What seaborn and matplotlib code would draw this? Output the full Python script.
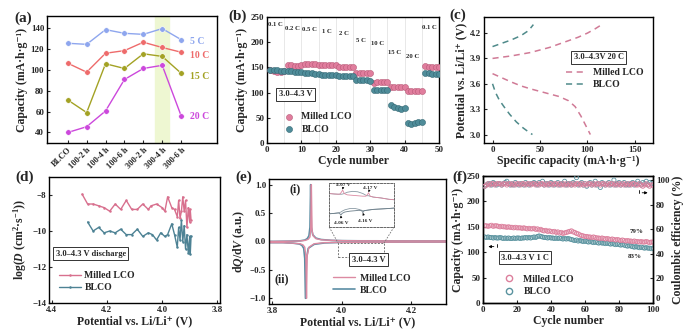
import numpy as np
import pandas as pd
import matplotlib
matplotlib.use('Agg')
import matplotlib.pyplot as plt
import seaborn as sns
from matplotlib.ticker import MultipleLocator
from matplotlib.lines import Line2D

# ---------------- data ----------------
# (a) rate capacity of samples
a_samples = ['BLCO', '100-2 h', '100-4 h', '100-6 h', '300-2 h', '300-4 h', '300-6 h']
a_5C = [125, 124, 138, 134.5, 133.5, 139, 128.5]
a_10C = [106, 97.5, 115.5, 118, 126, 121, 116.5]
a_15C = [71, 59, 105.5, 101, 115, 112.5, 96.5]
a_20C = [40, 45.5, 60.5, 90.5, 101, 104, 56]
a_rates = ['5 C', '10 C', '15 C', '20 C']
a_label_y = [127, 113.5, 93.5, 55.5]

# (b) rate performance
b_cycles = list(range(1, 51))
b_milled = [145, 143, 140, 140, 142, 154, 154, 153, 153, 154,
            156, 156, 156, 156, 155, 155, 155, 155, 154, 155,
            151, 150, 150, 150, 150, 138, 139, 139, 139, 139,
            119, 121, 121, 121, 121, 112, 112, 112, 111, 111,
            103, 104, 104, 104, 104, 152, 151, 151, 150, 150]
b_blco = [145, 144, 144, 143, 143, 143, 142, 141, 141, 140,
          138, 138, 138, 137, 137, 135, 135, 135, 134, 134,
          133, 132, 132, 132, 133, 125, 125, 125, 124, 123,
          106, 105, 105, 105, 106, 75, 72, 70, 68, 70,
          40, 38, 40, 41, 41, 138, 138, 137, 137, 137]
b_rate_labels = ['0.1 C', '0.2 C', '0.5 C', '1 C', '2 C', '5 C', '10 C', '15 C', '20 C', '0.1 C']
b_rate_x = [2.4, 7.5, 12.4, 17.3, 22.5, 27.3, 32.2, 37.1, 42.2, 47.2]
b_rate_y = [235, 228, 225, 222, 218, 204, 197, 180, 172, 229]

# (c) voltage profiles at 20 C
c_m_chg_x = [0, 10, 20, 30, 40, 50, 60, 70, 80, 90, 100, 108, 115]
c_m_chg_y = [3.90, 3.915, 3.93, 3.95, 3.97, 4.00, 4.03, 4.07, 4.11, 4.15, 4.20, 4.25, 4.30]
c_m_dis_x = [0, 10, 20, 30, 40, 50, 60, 70, 80, 87, 93, 98, 103]
c_m_dis_y = [3.72, 3.67, 3.62, 3.575, 3.54, 3.51, 3.48, 3.45, 3.40, 3.33, 3.22, 3.11, 3.00]
c_b_chg_x = [0, 10, 20, 30, 38, 43]
c_b_chg_y = [4.04, 4.08, 4.12, 4.17, 4.23, 4.30]
c_b_dis_x = [0, 3, 7, 12, 18, 25, 32, 38, 42]
c_b_dis_y = [3.60, 3.50, 3.41, 3.33, 3.24, 3.15, 3.08, 3.03, 3.00]

# (d) diffusion coefficient
d_m_V = [4.29, 4.27, 4.25, 4.23, 4.21, 4.19, 4.17, 4.15, 4.13, 4.11, 4.09, 4.07, 4.05,
         4.04, 4.02, 4.00, 3.99, 3.98, 3.965, 3.955, 3.945, 3.94, 3.935, 3.93, 3.925,
         3.92, 3.915, 3.91, 3.905, 3.90, 3.898, 3.895]
d_m_D = [-7.95, -8.5, -8.5, -8.6, -8.7, -8.9, -8.5, -8.8, -8.3, -8.8, -8.8, -8.5, -8.8,
         -8.6, -8.5, -8.7, -8.9, -8.1, -8.7, -8.8, -9.2, -8.3, -9.3, -8.9, -8.1,
         -8.9, -8.3, -9.8, -8.7, -9.5, -8.8, -9.4]
d_b_V = [4.27, 4.25, 4.23, 4.21, 4.19, 4.17, 4.15, 4.13, 4.11, 4.09, 4.07, 4.05, 4.035,
         4.02, 4.005, 3.99, 3.98, 3.965, 3.955, 3.945, 3.94, 3.935, 3.93, 3.925, 3.92,
         3.915, 3.91, 3.905, 3.90, 3.898, 3.895]
d_b_D = [-9.5, -10.0, -9.8, -10.1, -10.0, -10.1, -9.9, -10.2, -10.2, -9.9, -10.3, -10.1, -10.2,
         -10.5, -10.1, -10.3, -10.2, -9.6, -10.2, -10.9, -9.8, -10.5, -9.4, -10.6, -9.7,
         -11.0, -10.2, -11.2, -10.3, -11.3, -10.3]

# (e) dQ/dV
e_m_chg_V = [3.79, 3.85, 3.88, 3.895, 3.903, 3.908, 3.910, 3.912, 3.914, 3.917, 3.925,
             3.94, 3.97, 4.00, 4.05, 4.10, 4.15, 4.20, 4.25, 4.30]
e_m_chg_Q = [0.0, 0.005, 0.01, 0.02, 0.04, 0.08, 0.2, 1.0, 0.2, 0.1, 0.05,
             0.03, 0.02, 0.015, 0.012, 0.012, 0.01, 0.01, 0.01, 0.01]
e_m_dis_V = [4.30, 4.20, 4.10, 4.00, 3.95, 3.92, 3.905, 3.90, 3.898, 3.896, 3.893,
             3.888, 3.88, 3.86, 3.83, 3.79]
e_m_dis_Q = [-0.01, -0.01, -0.012, -0.015, -0.02, -0.04, -0.1, -0.25, -1.0, -0.25, -0.1,
             -0.06, -0.04, -0.03, -0.02, -0.02]
e_b_chg_V = [3.79, 3.85, 3.88, 3.893, 3.900, 3.905, 3.908, 3.910, 3.912, 3.916, 3.925,
             3.94, 3.97, 4.00, 4.05, 4.10, 4.15, 4.20, 4.25, 4.30]
e_b_chg_Q = [0.0, 0.006, 0.012, 0.025, 0.05, 0.1, 0.25, 1.0, 0.25, 0.12, 0.06,
             0.035, 0.02, 0.015, 0.012, 0.012, 0.01, 0.01, 0.01, 0.01]
e_b_dis_V = [4.30, 4.20, 4.10, 4.00, 3.95, 3.92, 3.903, 3.898, 3.895, 3.893, 3.890,
             3.885, 3.878, 3.86, 3.83, 3.79]
e_b_dis_Q = [-0.01, -0.01, -0.012, -0.015, -0.025, -0.05, -0.12, -0.3, -1.0, -0.3, -0.12,
             -0.07, -0.045, -0.03, -0.02, -0.02]
ins_up_x = [4.02, 4.04, 4.055, 4.062, 4.068, 4.072, 4.078, 4.09, 4.11, 4.13, 4.15,
            4.162, 4.168, 4.172, 4.178, 4.19, 4.22, 4.25, 4.27]
ins_up_m = [0.76, 0.75, 0.745, 0.75, 0.80, 0.84, 0.76, 0.73, 0.72, 0.71, 0.70,
            0.70, 0.74, 0.78, 0.70, 0.68, 0.66, 0.63, 0.62]
ins_up_b = [0.76, 0.75, 0.745, 0.745, 0.745, 0.75, 0.76, 0.79, 0.81, 0.80, 0.76,
            0.72, 0.71, 0.71, 0.70, 0.68, 0.66, 0.63, 0.62]
ins_lo_x = [4.02, 4.04, 4.055, 4.06, 4.065, 4.07, 4.08, 4.10, 4.12, 4.135, 4.145,
            4.15, 4.155, 4.165, 4.19, 4.22, 4.25, 4.27]
ins_lo_m = [0.30, 0.31, 0.32, 0.31, 0.27, 0.31, 0.34, 0.36, 0.37, 0.38, 0.37,
            0.33, 0.37, 0.38, 0.40, 0.41, 0.42, 0.43]
ins_lo_b = [0.30, 0.31, 0.32, 0.33, 0.34, 0.36, 0.39, 0.42, 0.42, 0.40, 0.38,
            0.37, 0.37, 0.38, 0.40, 0.41, 0.42, 0.43]

# (f) cycling at 1 C
f_cycles = list(range(1, 101))
f_cap_m = [152, 152, 151, 152, 153, 151, 152, 152, 151, 150,
           151, 150, 150, 149, 150, 149, 149, 148, 149, 148,
           148, 148, 147, 148, 147, 146, 147, 146, 146, 147,
           145, 146, 144, 145, 143, 142, 143, 141, 142, 141,
           140, 141, 139, 140, 138, 139, 137, 138, 139, 140,
           141, 142, 140, 139, 137, 136, 134, 133, 132, 131,
           131, 130, 130, 129, 130, 129, 128, 128, 127, 128,
           127, 126, 127, 126, 125, 126, 125, 124, 125, 124,
           123, 124, 123, 122, 123, 122, 122, 121, 122, 121,
           121, 120, 121, 120, 120, 121, 120, 119, 120, 120]
f_cap_b = [130, 129, 130, 129, 129, 128, 129, 128, 128, 129,
           128, 127, 128, 127, 128, 127, 127, 128, 127, 128,
           128, 127, 128, 128, 129, 128, 129, 128, 129, 130,
           129, 131, 132, 131, 130, 129, 129, 128, 129, 128,
           128, 127, 128, 127, 128, 127, 126, 127, 126, 127,
           126, 125, 124, 123, 124, 122, 123, 122, 121, 122,
           121, 120, 121, 120, 119, 120, 119, 118, 119, 118,
           118, 117, 118, 117, 116, 117, 116, 115, 116, 115,
           114, 115, 114, 113, 112, 113, 112, 111, 110, 111,
           110, 109, 110, 109, 108, 109, 108, 108, 107, 108]
f_ce_m = [95, 96, 97, 96, 97, 97, 96, 97, 97, 97,
          96, 97, 97, 96, 97, 97, 96, 97, 96, 97,
          97, 96, 97, 97, 96, 97, 97, 96, 97, 97,
          96, 97, 96, 97, 97, 96, 97, 96, 97, 97,
          96, 97, 97, 96, 97, 96, 97, 96, 97, 96,
          97, 96, 97, 96, 97, 97, 96, 97, 96, 97,
          96, 97, 97, 96, 97, 96, 97, 97, 96, 97,
          97, 96, 97, 96, 97, 97, 96, 97, 96, 97,
          96, 97, 96, 97, 96, 97, 96, 97, 97, 96,
          96, 97, 96, 95, 96, 97, 96, 95, 96, 96]
f_ce_b = [95, 96, 97, 97, 96, 98, 97, 96, 97, 97,
          96, 97, 98, 99, 97, 96, 97, 96, 98, 97,
          96, 97, 97, 96, 98, 97, 96, 97, 97, 98,
          97, 96, 98, 97, 99, 96, 97, 97, 96, 98,
          97, 96, 97, 98, 96, 97, 97, 99, 96, 97,
          97, 96, 98, 97, 102, 96, 97, 98, 96, 97,
          95, 97, 98, 96, 97, 99, 96, 97, 94, 98,
          97, 96, 97, 98, 96, 97, 100, 96, 97, 98,
          96, 97, 98, 96, 97, 96, 97, 98, 96, 97,
          99, 97, 96, 98, 97, 99, 96, 98, 97, 96]
f_ce_ticks = [0, 20, 40, 60, 80, 100]

# ---------------- style ----------------
sns.set_theme(style='ticks')
plt.rcParams['font.family'] = ['Liberation Serif', 'DejaVu Serif']
plt.rcParams['font.weight'] = 'bold'
plt.rcParams['axes.labelweight'] = 'bold'
plt.rcParams['mathtext.fontset'] = 'custom'
plt.rcParams['mathtext.rm'] = 'Liberation Serif:bold'
plt.rcParams['mathtext.it'] = 'Liberation Serif:italic:bold'
plt.rcParams['mathtext.bf'] = 'Liberation Serif:bold'
plt.rcParams['axes.linewidth'] = 1.0
plt.rcParams['axes.edgecolor'] = 'black'

LBL = 8.5
TCK = 6.5

fig = plt.figure(figsize=(6.93, 3.34), dpi=100)
fig.patch.set_facecolor('white')

def mk(rect):
    ax = fig.add_axes(rect)
    ax.set_facecolor('white')
    ax.tick_params(direction='in', length=2.5, width=0.8, labelsize=TCK, pad=2)
    return ax

def boxtext(ax, x, y, s, fs=6):
    ax.text(x, y, s, transform=ax.transAxes, ha='center', va='center', fontsize=fs,
            fontweight='bold', bbox=dict(boxstyle='square,pad=0.3', fc='white', ec='#333333', lw=0.7))

def bold_ticks(ax):
    for lab in ax.get_xticklabels() + ax.get_yticklabels():
        lab.set_fontweight('bold')

# ---------------- (a) ----------------
axA = mk([0.0678, 0.5719, 0.2453, 0.3802])
dfa = pd.DataFrame({'idx': list(range(len(a_samples))) * 4,
                    'cap': a_5C + a_10C + a_15C + a_20C,
                    'rate': sum([[r] * len(a_samples) for r in a_rates], [])})
a_cols = ['#8ea6ee', '#ee6b6b', '#a3a224', '#cc48dc']
axA.axvspan(4.6, 5.35, color='#eef7d2', zorder=0)
sns.lineplot(data=dfa, x='idx', y='cap', hue='rate', palette=a_cols, marker='o',
             markersize=4, markeredgewidth=0.4, linewidth=1.0, ax=axA, legend=False)
for r, yl, c in zip(a_rates, a_label_y, a_cols):
    axA.text(6.45, yl, r, color=c, fontsize=7, fontweight='bold', va='center', ha='left')
axA.set_xlim(-1.1, 7.9)
axA.set_ylim(30, 151)
axA.set_xticks(range(len(a_samples)))
axA.set_xticklabels(a_samples, rotation=45, ha='right', rotation_mode='anchor', fontsize=6)
axA.set_yticks([40, 60, 80, 100, 120, 140])
axA.set_xlabel('')
axA.set_ylabel('Capacity (mA·h·g⁻¹)', fontsize=LBL, labelpad=2)
bold_ticks(axA)

# ---------------- (b) ----------------
axB = mk([0.3853, 0.5719, 0.2482, 0.3772])
axB.xaxis.set_minor_locator(MultipleLocator(5))
axB.grid(axis='x', which='both', color='#e4e4e4', lw=0.6)
axB.set_axisbelow(True)
sns.scatterplot(x=b_cycles, y=b_milled, color='#e07d9d', edgecolor='#b85a78', linewidth=0.4,
                s=19, ax=axB, label='Milled LCO', zorder=3)
sns.scatterplot(x=b_cycles, y=b_blco, color='#4f8c99', edgecolor='#346874', linewidth=0.4,
                s=19, ax=axB, label='BLCO', zorder=3)
for t, x, y in zip(b_rate_labels, b_rate_x, b_rate_y):
    axB.text(x, y, t, fontsize=4.8, fontweight='bold', ha='center', va='center')
axB.set_xlim(0, 50)
axB.set_ylim(0, 250)
axB.set_xticks([0, 10, 20, 30, 40, 50])
axB.set_yticks([0, 50, 100, 150, 200, 250])
axB.tick_params(which='minor', length=0)
axB.set_xlabel('Cycle number', fontsize=LBL, labelpad=1)
axB.set_ylabel('Capacity (mA·h·g⁻¹)', fontsize=LBL, labelpad=2)
boxtext(axB, 0.166, 0.386, '3.0–4.3 V')
axB.legend(loc='lower left', bbox_to_anchor=(0.03, 0.02), frameon=False, fontsize=7,
           handletextpad=0.3, labelspacing=0.35, borderpad=0.2, markerscale=1.0)
bold_ticks(axB)

# ---------------- (c) ----------------
axC = mk([0.6984, 0.5719, 0.2439, 0.3772])
CP = '#d07a96'
CT = '#4f8a8a'
dash = (0, (4, 3))
sns.lineplot(x=c_m_chg_x, y=c_m_chg_y, sort=False, color=CP, lw=1.1, ax=axC)
sns.lineplot(x=c_m_dis_x, y=c_m_dis_y, sort=False, color=CP, lw=1.1, ax=axC)
sns.lineplot(x=c_b_chg_x, y=c_b_chg_y, sort=False, color=CT, lw=1.1, ax=axC)
sns.lineplot(x=c_b_dis_x, y=c_b_dis_y, sort=False, color=CT, lw=1.1, ax=axC)
for l in axC.get_lines():
    l.set_linestyle(dash)
axC.set_xlim(-9, 169)
axC.set_ylim(2.9, 4.39)
axC.set_xticks([0, 50, 100, 150])
axC.set_yticks([3.0, 3.3, 3.6, 3.9, 4.2])
axC.set_xlabel('Specific capacity (mA·h·g⁻¹)', fontsize=LBL, labelpad=1)
axC.set_ylabel('Potential vs. Li/Li⁺ (V)', fontsize=LBL, labelpad=2)
boxtext(axC, 0.68, 0.682, '3.0–4.3V 20 C')
hC = [Line2D([], [], color=CP, lw=1.1, ls=dash), Line2D([], [], color=CT, lw=1.1, ls=dash)]
axC.legend(hC, ['Milled LCO', 'BLCO'], loc='upper left', bbox_to_anchor=(0.45, 0.64),
           frameon=False, fontsize=7, handlelength=2.2, handletextpad=0.6, labelspacing=0.3,
           borderpad=0.1)
bold_ticks(axC)

# ---------------- (d) ----------------
axD = mk([0.0707, 0.0928, 0.2468, 0.3772])
DP = '#d8708e'
DT = '#4d8294'
sns.lineplot(x=d_m_V, y=d_m_D, sort=False, color=DP, lw=1.0, marker='o', markersize=1.8,
             markeredgewidth=0, ax=axD, label='Milled LCO')
sns.lineplot(x=d_b_V, y=d_b_D, sort=False, color=DT, lw=1.0, marker='o', markersize=1.8,
             markeredgewidth=0, ax=axD, label='BLCO')
axD.set_xlim(4.41, 3.79)
axD.set_ylim(-14, -7)
axD.set_xticks([4.4, 4.2, 4.0, 3.8])
axD.set_yticks([-14, -12, -10, -8])
axD.set_xlabel('Potential vs. Li/Li⁺ (V)', fontsize=LBL, labelpad=1)
axD.set_ylabel(r'log($\mathit{D}$ (cm$^{2}$·s$^{-1}$))', fontsize=LBL, labelpad=2)
boxtext(axD, 0.245, 0.39, '3.0–4.3 V discharge')
axD.legend(loc='lower left', bbox_to_anchor=(0.02, 0.03), frameon=False, fontsize=7,
           handlelength=2.2, handletextpad=0.4, labelspacing=0.35, borderpad=0.2)
bold_ticks(axD)

# ---------------- (e) ----------------
axE = mk([0.3882, 0.0898, 0.2554, 0.3743])
EP = '#dc8aa2'
ET = '#5b8ea4'
sns.lineplot(x=e_b_chg_V, y=e_b_chg_Q, sort=False, color=ET, lw=1.2, ax=axE)
sns.lineplot(x=e_b_dis_V, y=e_b_dis_Q, sort=False, color=ET, lw=1.2, ax=axE)
sns.lineplot(x=e_m_chg_V, y=e_m_chg_Q, sort=False, color=EP, lw=1.0, ax=axE)
sns.lineplot(x=e_m_dis_V, y=e_m_dis_Q, sort=False, color=EP, lw=1.0, ax=axE)
axE.set_xlim(3.79, 4.3)
axE.set_ylim(-1.1, 1.1)
axE.set_xticks([3.8, 4.0, 4.2])
axE.set_yticks([-1.0, -0.5, 0.0, 0.5, 1.0])
axE.set_xlabel('Potential vs. Li/Li⁺ (V)', fontsize=LBL, labelpad=1)
axE.set_ylabel(r'd$\mathit{Q}$/d$\mathit{V}$ (a.u.)', fontsize=LBL, labelpad=2)
axE.text(0.147, 0.915, '(i)', transform=axE.transAxes, fontsize=8.5, fontweight='bold',
         ha='center', va='center')
axE.text(0.07, 0.197, '(ii)', transform=axE.transAxes, fontsize=8.5, fontweight='bold',
         ha='center', va='center')
boxtext(axE, 0.563, 0.356, '3.0–4.3 V')
hE = [Line2D([], [], color=EP, lw=1.0), Line2D([], [], color=ET, lw=1.2)]
axE.legend(hE, ['Milled LCO', 'BLCO'], loc='upper left', bbox_to_anchor=(0.33, 0.29),
           frameon=False, fontsize=7, handlelength=2.2, handletextpad=0.5, labelspacing=0.3,
           borderpad=0.1)
# inset
ins = axE.inset_axes([0.34, 0.616, 0.366, 0.352])
ins.set_facecolor('white')
for sp in ins.spines.values():
    sp.set_linestyle((0, (2, 1.5)))
    sp.set_edgecolor('#666666')
    sp.set_linewidth(0.7)
ins.set_xticks([])
ins.set_yticks([])
sns.lineplot(x=ins_up_x, y=ins_up_b, sort=False, color='#8a9aa4', lw=0.6, ax=ins)
sns.lineplot(x=ins_up_x, y=ins_up_m, sort=False, color=EP, lw=0.6, ax=ins)
sns.lineplot(x=ins_lo_x, y=ins_lo_b, sort=False, color='#8a9aa4', lw=0.6, ax=ins)
sns.lineplot(x=ins_lo_x, y=ins_lo_m, sort=False, color='#6d7f8a', lw=0.6, ax=ins)
ins.set_xlim(4.02, 4.27)
ins.set_ylim(0, 1)
ins.set_xlabel('')
ins.set_ylabel('')
ap = dict(arrowstyle='-|>', lw=0.4, color='black', mutation_scale=3)
ins.annotate('4.07 V', xy=(4.072, 0.85), xytext=(4.075, 0.95), fontsize=3.8, ha='center',
             va='center', arrowprops=ap)
ins.annotate('4.17 V', xy=(4.172, 0.79), xytext=(4.178, 0.89), fontsize=3.8, ha='center',
             va='center', arrowprops=ap)
ins.annotate('4.06 V', xy=(4.065, 0.26), xytext=(4.068, 0.10), fontsize=3.8, ha='center',
             va='center', arrowprops=ap)
ins.annotate('4.16 V', xy=(4.15, 0.32), xytext=(4.16, 0.14), fontsize=3.8, ha='center',
             va='center', arrowprops=ap)
# small dashed region and connectors
rx0, rx1, ry0, ry1 = 0.39, 0.65, 0.376, 0.488
axE.plot([rx0, rx1, rx1, rx0, rx0], [ry0, ry0, ry1, ry1, ry0], transform=axE.transAxes,
         color='#777777', lw=0.7, ls=(0, (2, 1.5)))
axE.plot([0.34, rx0], [0.616, ry1], transform=axE.transAxes, color='#777777', lw=0.6,
         ls=(0, (2, 1.5)))
axE.plot([0.706, rx1], [0.616, ry1], transform=axE.transAxes, color='#777777', lw=0.6,
         ls=(0, (2, 1.5)))
bold_ticks(axE)

# ---------------- (f) ----------------
axF = mk([0.6970, 0.0928, 0.2453, 0.3802])
axF2 = axF.twinx()
axF2.tick_params(direction='in', length=2.5, width=0.8, labelsize=TCK, pad=2)
FP = '#dc7f9c'
FT = '#5a939f'

def open_scatter(ax, x, y, col):
    sns.scatterplot(x=x, y=y, ax=ax, s=9, marker='o', zorder=3)
    coll = ax.collections[-1]
    coll.set_facecolor('none')
    coll.set_edgecolor(col)
    coll.set_linewidth(0.6)

open_scatter(axF2, f_cycles, f_ce_b, FT)
open_scatter(axF2, f_cycles, f_ce_m, FP)
open_scatter(axF, f_cycles, f_cap_b, FT)
open_scatter(axF, f_cycles, f_cap_m, FP)
axF.set_xlim(0, 100)
axF.set_ylim(0, 250)
axF2.set_ylim(0, 103.3)
axF.set_xticks([0, 20, 40, 60, 80, 100])
axF.set_yticks([0, 50, 100, 150, 200, 250])
axF2.set_yticks(f_ce_ticks)
axF2.set_yticklabels([str(v) for v in f_ce_ticks], fontweight='bold')
axF2.get_yticklabels()[0].set_verticalalignment('bottom')
axF.set_xlabel('Cycle number', fontsize=LBL, labelpad=1)
axF.set_ylabel('Capacity (mA·h·g⁻¹)', fontsize=LBL, labelpad=2)
axF2.set_ylabel('Coulombic efficiency (%)', fontsize=LBL, labelpad=2)
axF.text(90.4, 141.7, '79%', fontsize=5, fontweight='bold', ha='center', va='center')
axF.text(89.4, 91, '83%', fontsize=5, fontweight='bold', ha='center', va='center')
axF.annotate('', xy=(1.5, 111), xytext=(8, 111),
             arrowprops=dict(arrowstyle='-|>', lw=0.6, color='black', mutation_scale=4))
axF.plot([8, 8], [111, 116], color='black', lw=0.6)
axF.annotate('', xy=(98.5, 217), xytext=(92, 217),
             arrowprops=dict(arrowstyle='-|>', lw=0.6, color='black', mutation_scale=4))
axF.plot([92, 92], [217, 223], color='black', lw=0.6)
boxtext(axF, 0.247, 0.357, '3.0–4.3 V 1 C')
hF = [Line2D([], [], ls='', marker='o', mfc='none', mec=FP, mew=1.0, ms=4.5),
      Line2D([], [], ls='', marker='o', mfc='none', mec=FT, mew=1.0, ms=4.5)]
axF.legend(hF, ['Milled LCO', 'BLCO'], loc='upper left', bbox_to_anchor=(0.06, 0.27),
           frameon=False, fontsize=7, handletextpad=0.5, labelspacing=0.35, borderpad=0.1)
bold_ticks(axF)
bold_ticks(axF2)

# ---------------- panel labels ----------------
for t, x, y in [('(a)', 0.033, 0.945), ('(b)', 0.343, 0.950), ('(c)', 0.660, 0.955),
                ('(d)', 0.036, 0.468), ('(e)', 0.352, 0.468), ('(f)', 0.664, 0.468)]:
    fig.text(x, y, t, fontsize=11, fontweight='bold', ha='center', va='center')

fig.savefig('out.png', dpi=100, facecolor='white')
